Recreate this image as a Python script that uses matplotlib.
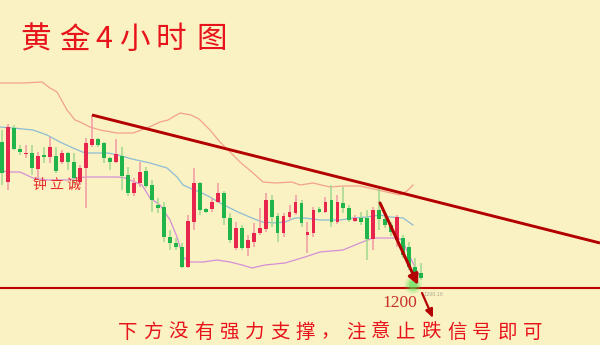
import matplotlib
matplotlib.use("Agg")
import matplotlib.pyplot as plt
from matplotlib.patches import Rectangle

# ---------------- data (gold, 4h candles) ----------------
opens = [1273, 1253, 1280, 1269.5, 1267, 1267.5, 1259.5, 1266.5, 1265.5, 1266,
         1263, 1267.5, 1263, 1253, 1260, 1271.5, 1274.5, 1272.5, 1265, 1263,
         1266, 1256.5, 1247.5, 1252.5, 1258.5, 1251.5, 1241.5, 1240.5, 1225.5, 1222.5,
         1220.5, 1210.5, 1233, 1252.5, 1239.5, 1239.5, 1243, 1247.5, 1235, 1220,
         1230, 1220, 1223, 1227.5, 1229.5, 1244, 1236, 1227.5, 1235.5, 1237.5,
         1242.5, 1226.5, 1227.5, 1239.5, 1238, 1244, 1233, 1242.5, 1240, 1233.5,
         1235, 1235, 1224.5, 1239, 1234.5, 1231.5, 1224, 1225, 1220.5, 1210.5,
         1207.5]
highs = [1279, 1282, 1281.5, 1271.5, 1271.5, 1271.5, 1268, 1270.5, 1275.5, 1270.5,
         1269, 1268, 1267.5, 1261.5, 1275, 1286.5, 1275, 1273, 1265.5, 1274.5,
         1270.5, 1260.5, 1255, 1263, 1260.5, 1254, 1245, 1243, 1229, 1225,
         1222.5, 1236.5, 1260, 1253, 1240, 1245, 1252.5, 1248.5, 1237.5, 1233,
         1231.5, 1226.5, 1232.5, 1240, 1247.5, 1246.5, 1237.5, 1237.5, 1241.5, 1246.5,
         1244, 1233, 1240.5, 1240.5, 1245.5, 1251.5, 1246.5, 1250.5, 1241.5, 1236.5,
         1238, 1239, 1240.5, 1250, 1236.5, 1233, 1236.5, 1226.5, 1223, 1215,
         1212.5]
lows = [1251.5, 1249, 1269, 1266.5, 1265, 1256.5, 1255, 1262.5, 1262.5, 1257.5,
        1262, 1259, 1251.5, 1251.5, 1240, 1270.5, 1270.5, 1262.5, 1259, 1262.5,
        1249, 1246, 1246, 1250.5, 1250, 1238, 1237.5, 1223, 1219, 1219,
        1210, 1210, 1229, 1236.5, 1237.5, 1238, 1242.5, 1231.5, 1222.5, 1219,
        1219, 1216, 1220.5, 1226.5, 1228, 1230.5, 1223, 1225.5, 1234, 1236.5,
        1230.5, 1217.5, 1225.5, 1237.5, 1237.5, 1230.5, 1232, 1237.5, 1233, 1233,
        1231.5, 1214, 1219, 1229, 1230, 1226, 1220.5, 1215, 1209, 1205,
        1204]
closes = [1257.5, 1280.5, 1269.5, 1268, 1267.5, 1260, 1266, 1265.5, 1270.5, 1258.5,
          1267.5, 1263, 1255, 1260, 1272.5, 1274.5, 1271.5, 1265, 1263, 1267,
          1256, 1247.5, 1252.5, 1258, 1251, 1244, 1240, 1225.5, 1222.5, 1220.5,
          1210.5, 1233.5, 1252.5, 1239, 1238, 1243, 1247.5, 1235, 1224, 1230,
          1220, 1224, 1227.5, 1230, 1244, 1235.5, 1227.5, 1236, 1238, 1243,
          1232.5, 1228, 1239, 1238, 1243, 1233, 1243, 1240, 1234, 1235,
          1233, 1224.5, 1239, 1234.5, 1231.5, 1228, 1235.5, 1216.5, 1210.5, 1206.5,
          1205]

# Bollinger bands (knots: candle index, price)
upper_x = [-0.33, 3.5, 6.68, 8.01, 9.18, 10.85, 12.19, 13.02, 14.69, 16.36, 19.2, 21.87,
           24.21, 26.38, 27.71, 29.72, 31.55, 32.89, 34.72, 36.39, 37.73, 39.73, 41.9,
           43.57, 45.58, 48.41, 49.75, 51.92, 54.76, 56.93, 59.77, 62.77, 66.44, 67.61, 68.61]
upper_y = [1302.5, 1302.5, 1303, 1300, 1298, 1289, 1284, 1283, 1280.5, 1279, 1277.5, 1277.5,
           1280, 1283, 1284, 1287.5, 1286.5, 1284.5, 1279, 1273, 1269, 1263, 1257.5,
           1253, 1252.5, 1253, 1251.5, 1252.5, 1250.5, 1251, 1251, 1249, 1246.5, 1248.5, 1251.5]
mid_x = [-0.33, 1.84, 5.18, 7.51, 9.68, 11.85, 13.86, 17.7, 19.37, 21.7, 24.71, 27.55,
         29.22, 30.22, 31.72, 33.06, 34.72, 36.39, 38.06, 39.4, 41.74, 43.41, 45.58,
         47.25, 48.91, 50.58, 53.09, 56.43, 58.6, 60.93, 63.11, 64.77, 66.94, 68.61]
mid_y = [1280.5, 1280, 1279, 1276.5, 1273, 1270, 1267.5, 1267.5, 1266.5, 1264.5, 1262.5, 1260,
         1255.5, 1251.5, 1249.5, 1248, 1245.5, 1242.5, 1240, 1238, 1235, 1233, 1232.5,
         1233, 1235, 1235, 1234, 1234, 1235, 1235.5, 1236.5, 1235.5, 1235, 1231.5]
lower_x = [-0.33, 0.83, 3.0, 5.18, 7.51, 10.85, 13.86, 19.37, 20.53, 23.37, 24.71, 26.38,
           28.05, 29.22, 30.22, 31.39, 33.56, 35.89, 38.06, 40.07, 41.74, 43.91, 47.25,
           50.58, 53.09, 56.93, 59.77, 61.94, 65.94, 66.78, 68.11, 69.78]
lower_y = [1259, 1258, 1258, 1255, 1254, 1254, 1255.5, 1255.5, 1255, 1251.5, 1245, 1241.5,
           1234, 1225.5, 1215.5, 1213, 1213, 1214, 1213, 1211.5, 1210, 1211.5, 1212.5,
           1215.5, 1218, 1219, 1222.5, 1225, 1225, 1224, 1215.5, 1205.5]

trend_x = [15.03, 99.83]
trend_y = [1286.5, 1222.5]
support_level = 1200
arrow1 = ((63.11, 1242.5), (69.45, 1201.5))
arrow2 = ((70.12, 1197.5), (71.95, 1185.0))

title = "黄金4小时图"
author = "钟立诚"
note = "下方没有强力支撑，注意止跌信号即可"

# ---------------- drawing ----------------
BG = "#faf2c2"
RED_BODY = "#e8254c"
GREEN_BODY = "#1fb54a"
RED_WICK = "#f29aa6"
GREEN_WICK = "#9fd98f"

plt.rcParams['font.family'] = ['Noto Sans CJK SC', 'DejaVu Sans']
fig = plt.figure(figsize=(6, 3.45), dpi=100)
fig.patch.set_facecolor(BG)
ax = fig.add_axes([0, 0, 1, 1])
ax.set_facecolor(BG)
ax.set_xlim(-0.334, 99.83)
ax.set_ylim(1171.5, 1344)
ax.axis('off')

# bands
ax.plot(upper_x, upper_y, color="#f3a18f", lw=0.9, zorder=2)
ax.plot(mid_x, mid_y, color="#8dbcd4", lw=0.9, zorder=2)
ax.plot(lower_x, lower_y, color="#d58fd6", lw=0.9, zorder=2)

# candles
w = 0.65
for i, (o, h, l, c) in enumerate(zip(opens, highs, lows, closes)):
    up = c >= o
    ax.vlines(i, l, h, colors=RED_WICK if up else GREEN_WICK, lw=1.1, zorder=3)
    bot = min(o, c)
    hgt = max(abs(c - o), 0.7)
    ax.add_patch(Rectangle((i - w / 2, bot), w, hgt,
                           facecolor=RED_BODY if up else GREEN_BODY,
                           edgecolor='none', zorder=4))

# trendline and support
ax.plot(trend_x, trend_y, color="#b30000", lw=2.1, zorder=5, solid_capstyle='butt')
ax.axhline(support_level, color="#c00000", lw=1.5, zorder=5)

# green glow near target
tx, ty = arrow1[1]
for s, a in [(160, 0.15), (90, 0.25), (40, 0.45)]:
    ax.scatter([tx - 0.8], [ty], s=s, color="#46e04a", alpha=a, edgecolors='none', zorder=5)

ax.annotate("", xy=arrow1[1], xytext=arrow1[0],
            arrowprops=dict(arrowstyle="-|>,head_length=0.6,head_width=0.3",
                            color="#b30000", lw=2.2, shrinkA=0, shrinkB=0), zorder=6)
ax.annotate("", xy=arrow2[1], xytext=arrow2[0],
            arrowprops=dict(arrowstyle="-|>,head_length=0.5,head_width=0.22",
                            color="#b30000", lw=1.6, shrinkA=0, shrinkB=0), zorder=6)

# texts (thin, hand-written look approximated with a light weight and letter spacing)
title_px = [20, 59, 95, 119, 156, 196]
for px, ch in zip(title_px, title):
    fig.text(px / 600, 1 - 40 / 345, ch, color="#e8141c", fontsize=22,
             fontweight='light', ha='left', va='center')
ax0, astep = 32, 17
for k, ch in enumerate(author):
    fig.text((ax0 + k * astep) / 600, 1 - 185 / 345, ch, color="#e52a2a", fontsize=10,
             fontweight='light', ha='left', va='center')
ax.text(70.3, support_level - 3.2, "1200.16", color="#b0a890", fontsize=4,
        ha='left', va='center')
fig.text(382 / 600, 1 - 303 / 345, "1200", color="#c8302c", fontsize=12.5,
         family='Liberation Serif', ha='left', va='center')

x0, step = 118, 25.3
for k, ch in enumerate(note):
    fig.text((x0 + k * step) / 600, 1 - 332 / 345, ch, color="#e8141c",
             fontsize=14, fontweight='light', ha='left', va='center')

fig.savefig("out.png", dpi=100, facecolor=BG)
